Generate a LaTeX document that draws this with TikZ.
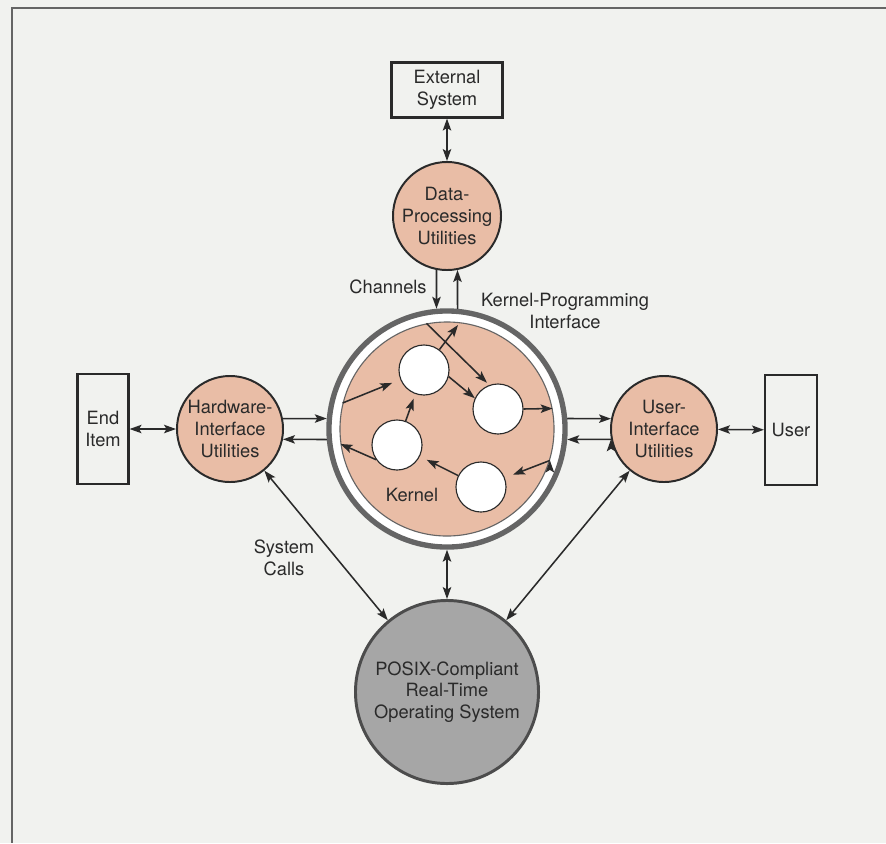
\documentclass[tikz,border=0pt]{standalone}
\usepackage{fontspec}
\setmainfont{TeX Gyre Heros}
\usetikzlibrary{arrows.meta}

\definecolor{paper}{HTML}{F1F2EF}
\definecolor{salmon}{HTML}{E9BDA6}
\definecolor{ink}{HTML}{2A2A2A}
\definecolor{ringgray}{HTML}{656565}
\definecolor{osgray}{HTML}{A6A6A6}

\tikzset{
  util/.style={shape=circle, draw=ink, fill=salmon, line width=1.4pt,
    minimum size=2.65cm, inner sep=0pt, align=center},
  ebox/.style={shape=rectangle, draw=ink, fill=paper, line width=1.5pt,
    inner sep=0pt, align=center},
  task/.style={shape=circle, draw=ink, fill=white, line width=0.8pt,
    minimum size=1.25cm, inner sep=0pt},
  lbl/.style={align=center, inner sep=0pt},
}

\begin{document}
\begin{tikzpicture}[x=0.025cm, y=-0.025cm, color=ink,
  font=\fontsize{13}{15.5}\selectfont, line width=1.1pt,
  >={Stealth[length=8.5pt, width=6pt, inset=1.8pt]}]
\useasboundingbox (0, 0) rectangle (886, 843);
\fill[paper] (0, 0) rectangle (886, 843);
\draw[ringgray, line width=1.6pt] (886, 8) -- (12, 8) -- (12, 843);

              % outside world
\node[ebox, minimum width=2.775cm, minimum height=1.375cm] at (447, 90)
(ext) {External\\System};

\node[ebox, minimum width=1.275cm, minimum height=2.75cm] at (103, 429)
(enditem) {End\\Item};

\node[ebox, minimum width=1.3cm, minimum height=2.75cm] at (791, 430)
(user) {User};

              % utilities
\node[util, minimum size=2.7cm] at (447, 216)
(dpu) {Data-\\Processing\\Utilities};

\node[util] at (230, 429)
(hwu) {Hardware-\\Interface\\Utilities};

\node[util] at (664, 429)
(uiu) {User-\\Interface\\Utilities};

              % kernel
\node[shape=circle, draw=ringgray, fill=white, line width=3.8pt,
  minimum size=5.9cm] at (447, 429)
(kring) {};

\node[shape=circle, draw=ringgray, fill=salmon, line width=0.8pt,
  minimum size=5.35cm] at (447, 429)
(kdisc) {};

\node[task] at (424, 370) (t1) {};
\node[task] at (498, 409) (t2) {};
\node[task] at (397, 445) (t3) {};
\node[task] at (481, 487) (t4) {};

\coordinate (kpi) at (458, 325);

              % RTOS
\node[shape=circle, draw=black!70, fill=osgray, line width=2.1pt,
  minimum size=4.575cm, inner sep=0pt, align=center] at (447, 692)
(posix) {POSIX-Compliant\\Real-Time\\Operating System};

              % labels
\node[lbl] at (388, 287) (chan) {Channels};
\node[lbl] at (565, 311) (kpif) {Kernel-Programming\\Interface};
\node[lbl] at (412, 495) (kern) {Kernel};
\node[lbl] at (284, 558) (syscall) {System\\Calls};

\draw[<->]
  (ext)     edge (dpu)
  (enditem) edge (hwu)
  (uiu)     edge (user)
  (kring)   edge (posix)
  (hwu)     edge (posix)
  (uiu)     edge (posix)
;
\draw[->]
  (dpu.-101)  edge (kring.95)
  (kring.85)  edge (dpu.-79)
  (hwu.11)    edge (kring.175)
  (kring.185) edge (hwu.-11)
  (kring.5)   edge (uiu.169)
  (uiu.191)   edge (kring.-5)
;
              % inside the kernel
\draw[->]
  (kdisc.166) edge[shorten >=0.22cm] (t1)
  (t1)        edge (kpi)
  (kdisc.101) edge[shorten >=0.08cm] (t2.110)
  (t1.-15)    edge (t2.155)
  (t2.east)   edge (kdisc.11)
  (t3)        edge[shorten >=0.12cm] (t1)
  (t3.215)    edge (kdisc.188)
  (kdisc.-17) edge[shorten >=0.22cm] (t4)
  (t4)        edge[shorten >=0.19cm] (t3)
;
\end{tikzpicture}
\end{document}
